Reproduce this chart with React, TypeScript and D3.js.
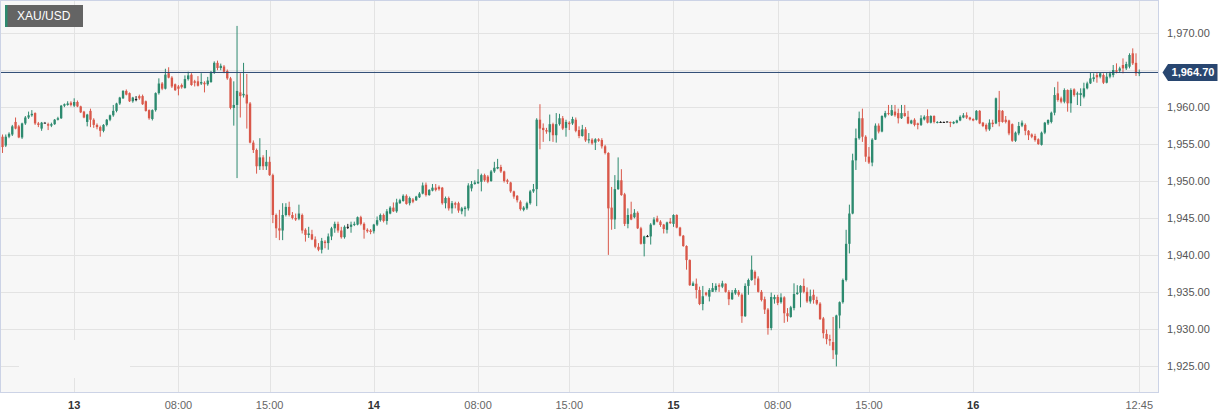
import React from "react";
import * as d3 from "d3";

// 15-minute XAU/USD candles
const openPrices = [
  1956.0, 1954.8, 1956.0, 1956.3, 1958.0, 1957.4, 1955.9, 1957.8, 1958.6, 1958.9,
  1959.2, 1957.8, 1957.1, 1957.9, 1957.7, 1957.5, 1957.7, 1958.3, 1958.5, 1960.2,
  1960.3, 1960.6, 1960.2, 1960.7, 1960.1, 1959.4, 1958.0, 1959.5, 1958.3, 1957.6,
  1957.3, 1956.8, 1957.6, 1958.3, 1958.9, 1959.5, 1960.5, 1961.2, 1962.2, 1961.9,
  1960.8, 1961.1, 1961.5, 1961.5, 1960.8, 1959.6, 1958.4, 1959.6, 1961.9, 1963.2,
  1962.5, 1964.6, 1964.0, 1963.1, 1962.8, 1963.0, 1962.6, 1963.8, 1964.4, 1963.5,
  1963.5, 1963.2, 1963.3, 1963.1, 1963.4, 1964.7, 1966.0, 1965.3, 1965.5, 1964.9,
  1963.9, 1959.9, 1960.3, 1962.0, 1961.6, 1961.7, 1960.5, 1955.2, 1954.2, 1952.0,
  1953.2, 1952.0, 1952.6, 1950.8, 1945.4, 1943.6, 1943.3, 1945.4, 1946.5, 1945.4,
  1945.0, 1944.9, 1945.4, 1943.4, 1942.7, 1942.8, 1942.1, 1941.1, 1940.7, 1941.8,
  1941.6, 1942.5, 1943.6, 1944.2, 1943.3, 1942.4, 1943.8, 1943.8, 1944.1, 1944.1,
  1945.1, 1944.2, 1943.4, 1943.3, 1943.2, 1944.1, 1944.7, 1945.4, 1944.6, 1945.6,
  1946.4, 1945.9, 1947.0, 1947.3, 1948.0, 1947.0, 1947.5, 1947.4, 1947.8, 1948.3,
  1949.5, 1948.1, 1948.7, 1949.1, 1949.2, 1949.1, 1947.0, 1947.7, 1946.3, 1947.0,
  1947.0, 1945.9, 1946.2, 1946.3, 1949.0, 1949.6, 1949.7, 1949.9, 1950.8, 1950.6,
  1950.0, 1951.3, 1951.7, 1951.9, 1951.3, 1950.1, 1949.8, 1948.6, 1948.0, 1947.2,
  1946.1, 1946.3, 1947.0, 1948.6, 1948.9, 1958.3, 1957.2, 1956.9, 1956.6, 1957.7,
  1956.2, 1957.7, 1958.5, 1957.2, 1957.9, 1957.8, 1958.3, 1956.9, 1956.1, 1957.0,
  1955.5, 1955.6, 1955.2, 1955.65, 1955.55, 1954.7, 1953.8, 1946.4, 1944.8, 1948.9,
  1950.1, 1948.2, 1944.2, 1945.5, 1945.1, 1945.7, 1943.6, 1941.5, 1942.55, 1942.5,
  1944.1, 1944.95, 1944.5, 1944.1, 1943.4, 1944.5, 1944.2, 1945.4, 1943.7, 1942.6,
  1941.2, 1939.3, 1935.8, 1936.1, 1935.25, 1933.35, 1934.9, 1934.35, 1935.0, 1935.25,
  1935.9, 1935.7, 1936.1, 1935.0, 1934.0, 1934.8, 1935.0, 1934.6, 1931.7, 1935.8,
  1936.6, 1937.7, 1936.8, 1935.0, 1934.0, 1932.6, 1930.1, 1934.0, 1934.3, 1933.6,
  1934.25, 1932.1, 1931.6, 1932.8, 1934.7, 1934.9, 1935.8, 1935.0, 1933.7, 1934.6,
  1933.9, 1933.4, 1931.4, 1929.3, 1928.6, 1928.2, 1926.5, 1931.8, 1933.6, 1936.6,
  1941.5, 1945.6, 1952.8, 1955.8, 1958.5, 1956.0, 1953.3, 1952.5, 1955.6, 1957.5,
  1956.7, 1958.7, 1959.2, 1958.9, 1959.4, 1959.2, 1958.5, 1959.2, 1958.7, 1957.8,
  1958.3, 1957.8, 1957.6, 1958.35, 1958.8, 1957.9, 1958.8, 1957.9, 1958.0, 1958.0,
  1958.05, 1958.0, 1957.8, 1957.9, 1958.2, 1958.6, 1958.9, 1958.6, 1958.4, 1958.3,
  1959.5, 1957.9, 1957.6, 1957.0, 1957.9, 1957.8, 1959.6, 1959.5, 1958.3, 1958.2,
  1957.7, 1955.45, 1956.45, 1957.5, 1957.6, 1956.8, 1956.3, 1956.1, 1955.65, 1954.9,
  1956.55, 1957.8, 1958.0, 1959.25, 1961.87, 1961.19, 1960.74, 1962.32, 1960.52, 1962.41,
  1961.7, 1961.64, 1961.42, 1962.55, 1963.22, 1963.8, 1964.35, 1964.13, 1964.35, 1963.31,
  1964.13, 1964.35, 1965.0, 1964.94, 1965.71, 1965.25, 1965.48, 1967.29, 1966.0, 1964.6,
];

const highPrices = [
  1956.3, 1956.3, 1956.6, 1957.6, 1958.6, 1957.6, 1957.9, 1958.8, 1959.4, 1959.6,
  1959.3, 1958.0, 1958.0, 1958.0, 1957.9, 1957.9, 1958.4, 1958.7, 1960.3, 1960.5,
  1960.8, 1960.8, 1961.2, 1960.9, 1960.2, 1959.5, 1959.1, 1959.8, 1958.5, 1957.8,
  1957.5, 1957.7, 1958.4, 1959.0, 1960.3, 1960.6, 1961.4, 1962.3, 1962.4, 1962.0,
  1961.4, 1961.5, 1961.7, 1961.7, 1960.9, 1959.7, 1959.7, 1962.0, 1963.9, 1963.4,
  1965.2, 1965.4, 1964.2, 1963.2, 1963.0, 1963.2, 1964.3, 1964.8, 1964.6, 1963.7,
  1964.2, 1964.6, 1963.5, 1964.1, 1964.9, 1966.2, 1966.3, 1965.9, 1965.7, 1965.1,
  1964.1, 1963.5, 1971.0, 1964.6, 1966.0, 1964.5, 1960.7, 1955.5, 1954.4, 1955.8,
  1953.5, 1954.2, 1953.3, 1951.0, 1945.6, 1946.1, 1947.0, 1947.0, 1947.2, 1945.8,
  1945.6, 1946.8, 1945.6, 1943.6, 1943.8, 1943.4, 1942.5, 1941.6, 1942.3, 1942.0,
  1942.9, 1943.8, 1944.5, 1944.5, 1943.8, 1944.0, 1944.2, 1944.5, 1944.5, 1945.2,
  1945.3, 1944.4, 1943.6, 1943.5, 1944.2, 1945.2, 1945.6, 1945.6, 1946.2, 1946.6,
  1947.1, 1947.6, 1947.6, 1948.2, 1948.2, 1947.9, 1947.7, 1948.0, 1948.5, 1949.8,
  1949.8, 1948.9, 1949.6, 1949.6, 1949.4, 1949.2, 1947.9, 1947.9, 1947.3, 1947.2,
  1947.2, 1946.5, 1946.6, 1949.7, 1950.0, 1950.1, 1951.6, 1951.0, 1951.0, 1950.8,
  1951.5, 1952.6, 1953.0, 1952.2, 1951.4, 1950.3, 1949.9, 1948.7, 1948.1, 1947.4,
  1946.6, 1947.2, 1948.8, 1949.6, 1958.5, 1960.4, 1957.8, 1957.2, 1959.0, 1957.9,
  1959.2, 1959.1, 1958.8, 1958.3, 1958.1, 1958.7, 1958.6, 1957.4, 1957.6, 1957.3,
  1956.5, 1955.8, 1955.8, 1955.8, 1955.8, 1954.9, 1953.9, 1949.2, 1950.8, 1953.2,
  1951.6, 1948.4, 1946.3, 1947.2, 1946.2, 1945.9, 1943.8, 1942.6, 1942.7, 1944.3,
  1945.1, 1945.3, 1944.7, 1944.2, 1944.5, 1945.0, 1945.5, 1945.5, 1943.8, 1942.7,
  1941.3, 1939.4, 1936.4, 1936.8, 1935.7, 1935.8, 1935.0, 1935.5, 1936.2, 1936.15,
  1936.15, 1936.5, 1936.15, 1935.25, 1935.25, 1935.5, 1935.25, 1934.8, 1936.15, 1936.8,
  1939.9, 1937.9, 1937.1, 1935.25, 1934.35, 1932.8, 1934.9, 1934.6, 1934.6, 1934.8,
  1934.4, 1932.8, 1933.1, 1936.15, 1935.9, 1935.9, 1936.8, 1935.6, 1935.3, 1935.3,
  1934.35, 1933.6, 1931.6, 1929.9, 1929.2, 1931.6, 1931.9, 1933.7, 1936.8, 1943.4,
  1946.8, 1953.7, 1957.1, 1959.4, 1959.8, 1956.2, 1954.6, 1955.8, 1957.8, 1957.8,
  1958.9, 1959.5, 1960.3, 1960.3, 1960.3, 1959.8, 1960.3, 1960.3, 1959.5, 1958.3,
  1958.5, 1957.9, 1958.9, 1958.9, 1959.7, 1958.9, 1958.9, 1958.1, 1958.1, 1958.05,
  1958.1, 1958.05, 1958.1, 1958.3, 1958.9, 1959.2, 1959.3, 1958.7, 1958.5, 1959.6,
  1959.6, 1958.0, 1957.8, 1958.35, 1958.3, 1961.3, 1962.2, 1959.6, 1958.8, 1958.3,
  1957.8, 1956.7, 1958.0, 1958.2, 1957.8, 1956.9, 1956.45, 1956.4, 1955.78, 1956.7,
  1958.0, 1958.35, 1959.4, 1962.7, 1963.45, 1961.42, 1962.55, 1962.41, 1962.55, 1962.55,
  1962.1, 1962.55, 1963.31, 1963.45, 1964.67, 1964.58, 1964.67, 1964.67, 1964.58, 1964.67,
  1964.8, 1965.71, 1965.93, 1965.48, 1966.6, 1966.15, 1967.29, 1967.96, 1967.29, 1965.1,
];

const lowPrices = [
  1953.8, 1954.6, 1955.8, 1956.1, 1957.0, 1955.8, 1955.7, 1957.6, 1958.4, 1958.7,
  1957.6, 1957.3, 1956.8, 1957.9, 1956.9, 1957.3, 1957.6, 1958.2, 1958.4, 1960.0,
  1960.2, 1960.1, 1960.0, 1960.0, 1959.2, 1958.5, 1957.4, 1957.3, 1957.2, 1957.0,
  1956.0, 1956.6, 1957.4, 1958.1, 1958.7, 1959.3, 1960.3, 1961.1, 1961.6, 1960.7,
  1960.6, 1960.8, 1961.0, 1960.3, 1959.4, 1958.3, 1958.2, 1959.4, 1961.7, 1962.3,
  1962.4, 1963.9, 1962.6, 1962.2, 1961.6, 1962.5, 1962.5, 1963.6, 1962.9, 1962.8,
  1962.8, 1963.0, 1962.0, 1962.9, 1963.3, 1964.5, 1965.0, 1965.0, 1964.6, 1963.7,
  1959.7, 1957.5, 1950.4, 1958.6, 1961.3, 1957.1, 1955.1, 1953.8, 1951.0, 1951.5,
  1951.5, 1951.5, 1950.7, 1944.3, 1942.3, 1942.0, 1942.0, 1945.2, 1945.2, 1944.8,
  1944.6, 1944.7, 1942.9, 1941.8, 1942.3, 1942.0, 1940.9, 1940.5, 1940.2, 1940.9,
  1940.7, 1942.0, 1943.0, 1943.0, 1942.2, 1942.2, 1943.5, 1943.0, 1943.9, 1944.0,
  1944.0, 1942.2, 1943.0, 1942.8, 1942.9, 1943.9, 1944.5, 1944.4, 1944.1, 1945.5,
  1945.8, 1945.7, 1946.9, 1947.2, 1946.8, 1946.7, 1947.0, 1947.3, 1947.7, 1948.2,
  1947.9, 1948.0, 1948.6, 1948.6, 1948.7, 1946.8, 1946.3, 1946.0, 1945.6, 1946.3,
  1945.7, 1945.5, 1945.2, 1946.0, 1948.6, 1949.5, 1949.6, 1948.6, 1949.9, 1949.7,
  1949.9, 1951.1, 1951.6, 1951.1, 1949.8, 1949.6, 1948.4, 1947.6, 1947.1, 1946.0,
  1945.9, 1946.1, 1946.8, 1948.4, 1946.6, 1954.3, 1955.3, 1956.4, 1955.4, 1955.3,
  1955.2, 1957.5, 1956.9, 1956.0, 1956.9, 1957.6, 1956.6, 1955.8, 1956.0, 1955.3,
  1955.1, 1954.9, 1954.2, 1955.3, 1954.4, 1953.6, 1940.0, 1943.4, 1943.5, 1948.8,
  1948.0, 1943.9, 1943.6, 1944.7, 1944.95, 1943.5, 1941.4, 1939.8, 1942.4, 1941.4,
  1944.0, 1944.4, 1943.8, 1942.9, 1942.9, 1944.2, 1943.8, 1943.6, 1942.5, 1941.1,
  1938.0, 1935.8, 1935.8, 1934.1, 1933.2, 1932.5, 1934.4, 1933.7, 1935.0, 1935.0,
  1935.0, 1935.5, 1934.9, 1933.2, 1933.9, 1934.6, 1934.35, 1930.8, 1931.6, 1934.6,
  1936.5, 1935.9, 1934.9, 1933.7, 1932.0, 1929.2, 1929.8, 1933.4, 1933.2, 1933.4,
  1930.8, 1930.95, 1931.5, 1932.5, 1934.6, 1932.9, 1934.8, 1933.5, 1933.4, 1933.4,
  1933.2, 1931.2, 1928.7, 1927.9, 1927.7, 1925.9, 1924.9, 1930.05, 1933.4, 1936.4,
  1940.2, 1945.5, 1951.5, 1955.6, 1955.3, 1952.6, 1952.3, 1952.0, 1955.55, 1956.45,
  1956.6, 1958.5, 1958.9, 1958.8, 1958.7, 1957.8, 1958.4, 1958.7, 1957.7, 1957.7,
  1957.4, 1957.0, 1957.45, 1958.2, 1957.8, 1957.8, 1957.8, 1957.8, 1957.9, 1957.95,
  1958.0, 1957.3, 1957.7, 1957.8, 1958.1, 1958.5, 1958.4, 1958.2, 1958.1, 1958.2,
  1957.7, 1957.3, 1956.7, 1956.8, 1957.3, 1957.7, 1957.4, 1957.9, 1957.8, 1956.2,
  1955.3, 1955.3, 1956.2, 1957.3, 1956.2, 1955.55, 1955.8, 1955.33, 1954.9, 1954.8,
  1956.35, 1957.58, 1957.8, 1958.9, 1960.74, 1960.52, 1960.52, 1959.39, 1959.25, 1961.42,
  1960.29, 1960.15, 1961.19, 1962.41, 1963.13, 1963.45, 1963.31, 1963.9, 1963.13, 1963.22,
  1963.9, 1964.04, 1964.58, 1964.67, 1964.58, 1965.03, 1965.25, 1965.71, 1964.22, 1964.2,
];

const closePrices = [
  1954.6, 1956.0, 1956.4, 1957.4, 1957.1, 1955.9, 1957.8, 1958.6, 1958.9, 1959.1,
  1957.8, 1957.6, 1957.9, 1957.9, 1957.5, 1957.7, 1958.3, 1958.5, 1960.2, 1960.4,
  1960.5, 1960.3, 1960.7, 1960.1, 1959.3, 1958.6, 1959.0, 1958.3, 1957.6, 1957.3,
  1956.8, 1957.6, 1958.3, 1958.9, 1959.5, 1960.5, 1961.3, 1962.2, 1961.7, 1960.8,
  1961.3, 1961.1, 1961.2, 1960.4, 1959.5, 1958.5, 1959.6, 1961.9, 1963.2, 1962.5,
  1964.4, 1964.0, 1962.8, 1962.3, 1962.5, 1962.7, 1963.8, 1964.3, 1963.0, 1963.3,
  1962.9, 1963.4, 1963.1, 1963.6, 1964.7, 1966.0, 1965.3, 1965.6, 1964.8, 1963.9,
  1959.9, 1960.3, 1962.2, 1961.5, 1961.8, 1960.5, 1955.2, 1954.2, 1952.0, 1953.2,
  1952.0, 1952.6, 1950.8, 1945.4, 1943.6, 1943.3, 1945.4, 1946.5, 1945.4, 1945.0,
  1944.8, 1945.6, 1943.3, 1942.7, 1942.9, 1942.1, 1941.1, 1940.7, 1941.9, 1941.6,
  1942.5, 1943.6, 1944.2, 1943.3, 1942.4, 1943.8, 1943.8, 1944.1, 1944.2, 1945.1,
  1944.2, 1943.4, 1943.2, 1943.1, 1944.1, 1944.7, 1945.4, 1944.6, 1945.9, 1946.4,
  1945.9, 1947.1, 1947.4, 1948.0, 1946.9, 1947.7, 1947.2, 1947.9, 1948.3, 1949.4,
  1948.1, 1948.8, 1949.1, 1948.8, 1948.9, 1947.0, 1947.7, 1946.3, 1947.0, 1946.8,
  1946.0, 1946.3, 1946.4, 1949.4, 1949.6, 1949.8, 1949.9, 1950.8, 1950.1, 1949.9,
  1951.3, 1951.8, 1951.9, 1951.3, 1950.0, 1949.9, 1948.6, 1947.9, 1947.4, 1946.2,
  1946.4, 1947.0, 1948.6, 1948.9, 1958.3, 1957.1, 1956.9, 1956.7, 1957.7, 1956.2,
  1957.7, 1958.5, 1957.1, 1958.0, 1957.7, 1958.4, 1956.8, 1956.1, 1957.0, 1955.5,
  1955.65, 1955.1, 1955.65, 1955.45, 1954.7, 1953.8, 1946.3, 1944.8, 1948.9, 1950.1,
  1948.1, 1944.2, 1945.4, 1944.8, 1945.7, 1943.6, 1941.5, 1942.5, 1942.55, 1944.1,
  1944.8, 1944.5, 1944.05, 1943.5, 1944.4, 1944.3, 1945.4, 1943.7, 1942.6, 1941.2,
  1939.3, 1935.9, 1936.15, 1935.25, 1933.35, 1934.4, 1934.6, 1935.25, 1935.5, 1935.8,
  1935.7, 1936.15, 1935.0, 1934.0, 1934.9, 1935.25, 1934.6, 1931.7, 1935.8, 1936.6,
  1938.0, 1936.8, 1935.0, 1933.9, 1932.6, 1930.1, 1934.3, 1934.3, 1933.5, 1934.25,
  1932.1, 1931.7, 1932.9, 1934.7, 1934.9, 1935.8, 1935.0, 1933.7, 1934.4, 1933.9,
  1933.4, 1931.3, 1929.4, 1928.6, 1928.4, 1927.1, 1931.8, 1933.6, 1936.6, 1941.5,
  1945.6, 1952.8, 1955.8, 1958.5, 1956.0, 1953.3, 1952.5, 1955.6, 1957.5, 1956.7,
  1958.8, 1959.2, 1959.1, 1959.6, 1958.9, 1958.5, 1959.2, 1958.8, 1957.8, 1958.2,
  1957.6, 1957.6, 1958.5, 1958.7, 1957.9, 1958.8, 1958.0, 1958.0, 1958.0, 1958.0,
  1958.05, 1957.9, 1958.0, 1958.2, 1958.7, 1958.9, 1958.6, 1958.35, 1958.2, 1959.5,
  1957.8, 1957.45, 1957.0, 1957.9, 1957.7, 1961.2, 1958.0, 1958.0, 1958.0, 1956.45,
  1955.45, 1956.55, 1957.45, 1957.9, 1956.8, 1956.2, 1956.0, 1955.55, 1955.0, 1956.55,
  1957.9, 1958.26, 1959.25, 1961.64, 1960.97, 1960.74, 1962.32, 1960.52, 1962.32, 1961.64,
  1961.87, 1961.9, 1962.55, 1963.22, 1963.9, 1964.04, 1964.04, 1964.58, 1963.31, 1964.13,
  1964.58, 1965.03, 1964.8, 1965.25, 1965.25, 1965.84, 1967.06, 1965.93, 1964.58, 1964.7,
];

// x-axis ticks: candle index and label
const tickIndex = [22, 54, 82, 114, 146, 174, 206, 238, 266, 298, 349];
const tickLabels = ["13", "08:00", "15:00", "14", "08:00", "15:00", "15", "08:00", "15:00", "16", "12:45"];
const dayTick = [true, false, false, true, false, false, true, false, false, true, false];
const priceTicks = [1925, 1930, 1935, 1940, 1945, 1950, 1955, 1960, 1965, 1970];

const symbol = "XAU/USD";
const lastPrice = 1964.7;

const UP = "#2d8a6f";
const DOWN = "#d9584a";
const FLAT = "#1b1b1b";
const NAVY = "#284670";
const FONT = "'Liberation Sans', Arial, sans-serif";

export default function App() {
  const width = 1229;
  const height = 418;
  const plotRight = 1158;
  const plotBottom = 392;

  const idx = d3.range(closePrices.length);
  const x = d3
    .scaleBand<number>()
    .domain(idx)
    .range([0.9, 1140.9])
    .paddingInner(0.28)
    .paddingOuter(0.14);
  const y = d3.scaleLinear().domain([1925, 1970]).range([365.7, 33.3]);
  const bw = x.bandwidth();
  const cx = (i: number) => (x(i) as number) + bw / 2;
  const fmt = d3.format(",.2f");

  const lastY = y(lastPrice);
  // the price tag hides the axis label it sits on
  const axisLabels = priceTicks.filter((p) => Math.abs(y(p) - lastY) > 12);

  return (
    <svg
      width={width}
      height={height}
      style={{ position: "absolute", left: 0, top: 0, display: "block" }}
      fontFamily={FONT}
    >
      <rect x={0} y={0} width={width} height={height} fill="#ffffff" />
      <rect x={0.5} y={0.5} width={plotRight} height={plotBottom} fill="#f7f7f7" />

      {/* grid */}
      {priceTicks.map((p) => (
        <line
          key={"h" + p}
          x1={0.5}
          x2={plotRight + 0.5}
          y1={Math.round(y(p)) + 0.5}
          y2={Math.round(y(p)) + 0.5}
          stroke="#e3e3e3"
        />
      ))}
      {tickIndex.map((t) => (
        <line
          key={"v" + t}
          x1={Math.round(cx(t)) + 0.5}
          x2={Math.round(cx(t)) + 0.5}
          y1={0.5}
          y2={plotBottom + 0.5}
          stroke="#e3e3e3"
        />
      ))}
      {/* blank patch seen in the lower left */}
      <rect x={19} y={340} width={111} height={38} fill="#f7f7f7" />

      {/* candles */}
      {idx.map((i) => {
        const o = openPrices[i];
        const c = closePrices[i];
        const color = c > o ? UP : c < o ? DOWN : FLAT;
        const top = y(Math.max(o, c));
        const bot = y(Math.min(o, c));
        const h = Math.max(1, bot - top);
        return (
          <g key={i}>
            <line
              x1={cx(i)}
              x2={cx(i)}
              y1={y(highPrices[i])}
              y2={y(lowPrices[i])}
              stroke={color}
              strokeWidth={1}
            />
            <rect x={x(i)} y={top} width={bw} height={h} fill={color} />
          </g>
        );
      })}

      {/* last price line */}
      <line x1={0.5} x2={plotRight + 0.5} y1={lastY} y2={lastY} stroke={NAVY} strokeWidth={1} />

      <rect
        x={0.5}
        y={0.5}
        width={plotRight}
        height={plotBottom}
        fill="none"
        stroke="#ccd3e6"
      />

      {/* y axis labels */}
      {axisLabels.map((p) => (
        <text key={"yl" + p} x={1167} y={y(p)} dy="0.35em" fontSize={11} fill="#555">
          {fmt(p)}
        </text>
      ))}

      {/* price tag */}
      <path
        d={`M1162.5,${lastY} L1168,${lastY - 8.5} L1217.5,${lastY - 8.5} L1217.5,${lastY + 8.5} L1168,${lastY + 8.5} Z`}
        fill={NAVY}
      />
      <text
        x={1193}
        y={lastY}
        dy="0.36em"
        fontSize={11}
        fontWeight="bold"
        fill="#fff"
        textAnchor="middle"
      >
        {fmt(lastPrice)}
      </text>

      {/* x axis labels */}
      {tickIndex.map((t, k) => (
        <text
          key={"xl" + t}
          x={cx(t)}
          y={409}
          fontSize={11}
          textAnchor="middle"
          fontWeight={dayTick[k] ? "bold" : "normal"}
          fill={dayTick[k] ? "#333" : "#666"}
        >
          {tickLabels[k]}
        </text>
      ))}

      {/* symbol badge */}
      <rect x={5} y={5} width={78} height={22} fill="#646464" />
      <rect x={5} y={5} width={2.5} height={22} fill={UP} />
      <text x={17} y={20.3} fontSize={12} fill="#fff">
        {symbol}
      </text>
    </svg>
  );
}
